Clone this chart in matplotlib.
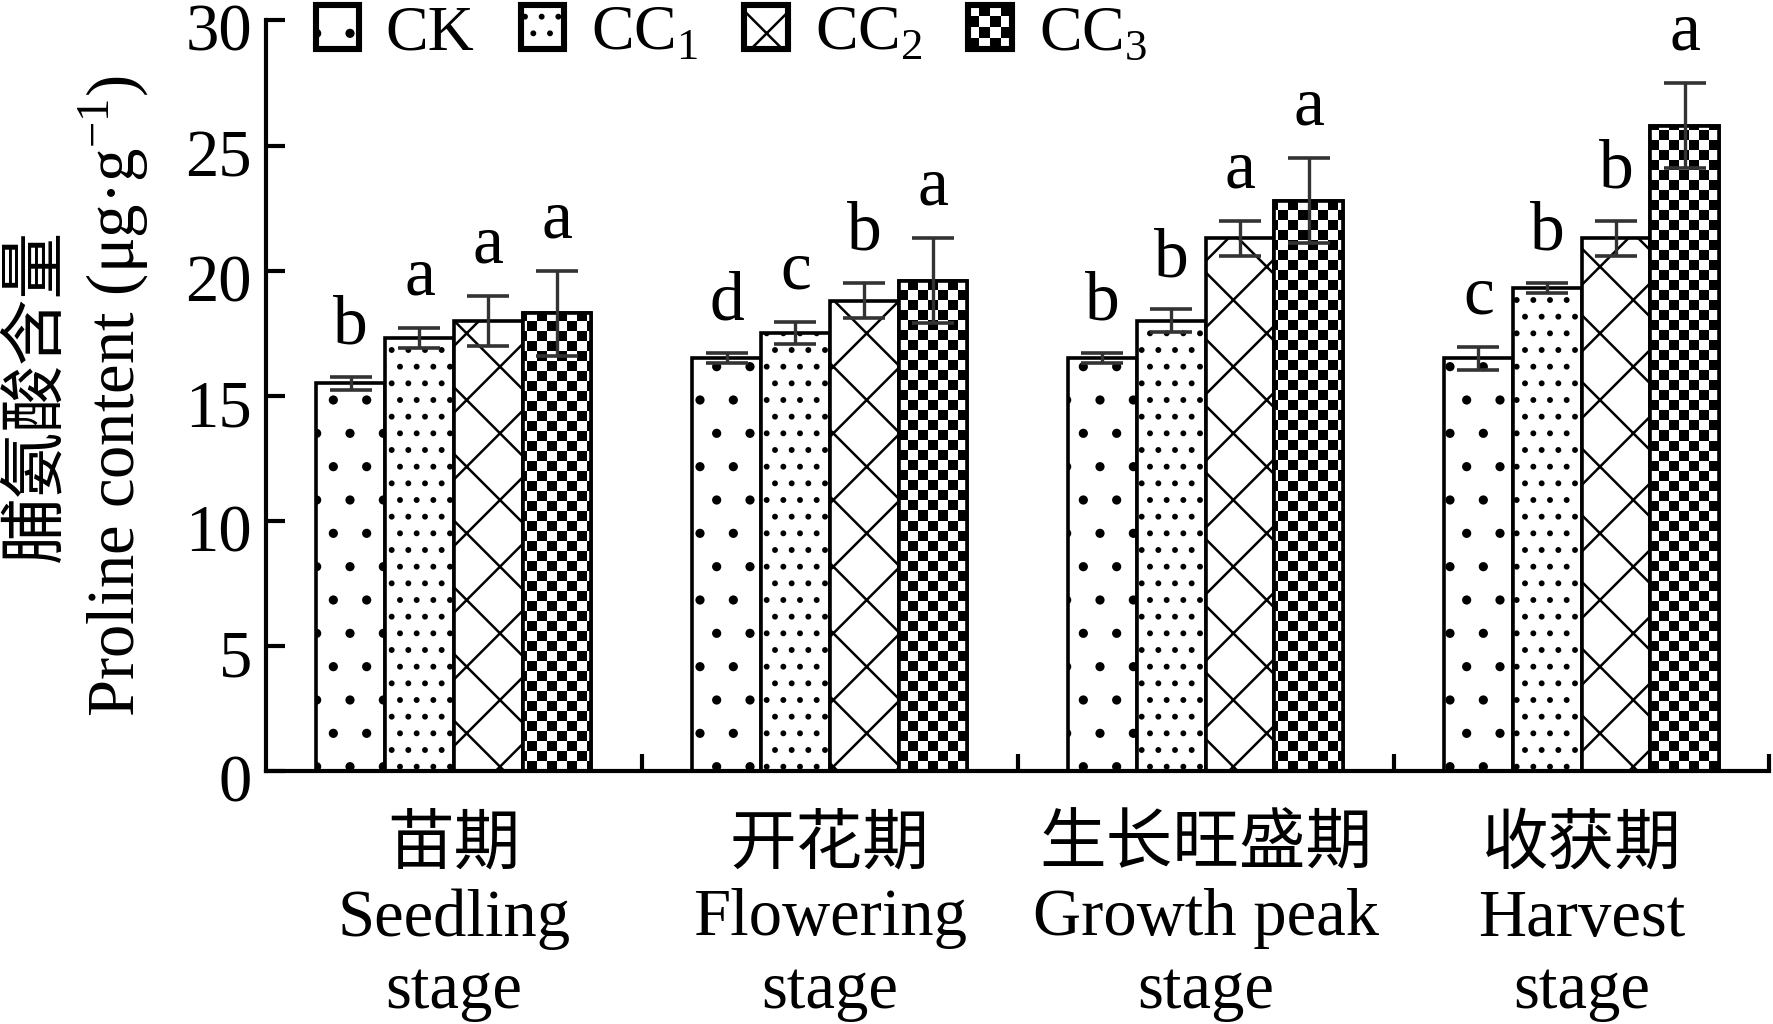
import numpy as np
import matplotlib
matplotlib.use("Agg")
import matplotlib.pyplot as plt
import matplotlib.transforms as mtransforms
from matplotlib.patches import Rectangle
from matplotlib.legend_handler import HandlerBase

plt.rcParams['font.family'] = ['Liberation Serif', 'Noto Sans CJK SC']
plt.rcParams['mathtext.fontset'] = 'custom'
plt.rcParams['mathtext.rm'] = 'Liberation Serif'
plt.rcParams['hatch.linewidth'] = 0.9

# data
stages = ['苗期\nSeedling\nstage', '开花期\nFlowering\nstage',
          '生长旺盛期\nGrowth peak\nstage', '收获期\nHarvest\nstage']
groups = ['CK', 'CC$_\\mathregular{1}$', 'CC$_\\mathregular{2}$', 'CC$_\\mathregular{3}$']
ck = [15.5, 16.5, 16.5, 16.5]
ck_err = [0.25, 0.2, 0.2, 0.45]
cc1 = [17.3, 17.5, 18.0, 19.3]
cc1_err = [0.4, 0.45, 0.45, 0.2]
cc2 = [18.0, 18.8, 21.3, 21.3]
cc2_err = [1.0, 0.7, 0.7, 0.7]
cc3 = [18.3, 19.6, 22.8, 25.8]
cc3_err = [1.7, 1.7, 1.7, 1.7]
ck_sig = ['b', 'd', 'b', 'c']
cc1_sig = ['a', 'c', 'b', 'b']
cc2_sig = ['a', 'b', 'a', 'b']
cc3_sig = ['a', 'a', 'a', 'a']

means = [ck, cc1, cc2, cc3]
errs = [ck_err, cc1_err, cc2_err, cc3_err]
sigs = [ck_sig, cc1_sig, cc2_sig, cc3_sig]
hatches = ['.', '..', 'x', None]


class CheckerHandler(HandlerBase):
    def create_artists(self, legend, orig_handle, xdescent, ydescent,
                       width, height, fontsize, trans):
        n = 4
        x0, y0 = -xdescent, -ydescent
        arts = [Rectangle((x0, y0), width, height, facecolor='white',
                          edgecolor='none', transform=trans)]
        for i in range(n):
            for j in range(n):
                if (i + j) % 2 == 0:
                    arts.append(Rectangle((x0 + i * width / n, y0 + j * height / n),
                                          width / n, height / n, facecolor='black',
                                          edgecolor='none', transform=trans))
        arts.append(Rectangle((x0, y0), width, height, facecolor='none',
                              edgecolor='black', lw=2.2, transform=trans))
        return arts


fig = plt.figure(figsize=(8.865, 5.12), dpi=200)
ax = fig.add_axes([0.150, 0.247, 0.848, 0.733])

x = np.arange(len(stages)) + 0.5
w = 0.183
containers = []
for k in range(4):
    pos = x + (k - 1.5) * w
    bars = ax.bar(pos, means[k], w, facecolor='white', edgecolor='black',
                  lw=1.3, hatch=hatches[k], zorder=2)
    containers.append(bars)
    if k == 3:
        # checkerboard fill clipped to each bar
        bb = ax.get_position()
        nx = int(round(bb.width * fig.get_figwidth() * fig.dpi / 10))
        ny = int(round(bb.height * fig.get_figheight() * fig.dpi / 10))
        ii, jj = np.indices((ny, nx))
        board = ((ii + jj) % 2).astype(float)
        for b in bars:
            im = ax.imshow(board, extent=(0, 4, 0, 30), origin='lower',
                           cmap='gray', interpolation='nearest', aspect='auto',
                           zorder=2.5)
            im.set_clip_path(b)
        ax.bar(pos, means[k], w, fill=False, edgecolor='black', lw=1.3, zorder=3)
    ax.errorbar(pos, means[k], yerr=errs[k], fmt='none', ecolor='#333333',
                elinewidth=1.2, capsize=7.5, capthick=1.3, zorder=4)
    for xi, m, e, s in zip(pos, means[k], errs[k], sigs[k]):
        ax.annotate(s, (xi, m + e), xytext=(0, 12), textcoords='offset points',
                    ha='center', va='baseline', fontsize=25)

ax.set_xlim(0, 4)
ax.set_ylim(0, 30)
ax.spines['top'].set_visible(False)
ax.spines['right'].set_visible(False)
for s in ['left', 'bottom']:
    ax.spines[s].set_linewidth(1.5)

ax.set_yticks(np.arange(0, 31, 5))
ax.tick_params(axis='y', direction='in', length=7, width=1.5, labelsize=24, pad=5)
shift = mtransforms.ScaledTranslation(0, -2.5 / 72, fig.dpi_scale_trans)
for t in ax.get_yticklabels():
    t.set_transform(t.get_transform() + shift)
ax.set_xticks(x, stages)
ax.set_xticks([1, 2, 3, 4], minor=True)
ax.tick_params(axis='x', which='major', length=0, labelsize=24, pad=16)
ax.tick_params(axis='x', which='minor', direction='in', length=6, width=1.5)
for t in ax.get_xticklabels():
    t.set_linespacing(1.24)

ax.set_ylabel('脯氨酸含量\nProline content (μg·g$^{\\mathregular{-1}}$)',
              fontsize=24, labelpad=12, linespacing=1.15)

leg = ax.legend(containers, groups, loc='upper left', ncol=4, frameon=False,
                fontsize=23, handlelength=0.68, handleheight=0.68, handletextpad=0.42,
                columnspacing=0.72, borderpad=0, borderaxespad=0,
                bbox_to_anchor=(0.178, 0.995), bbox_transform=fig.transFigure,
                handler_map={containers[3]: CheckerHandler()})
for h in leg.legend_handles[:3]:
    h.set_linewidth(2.2)

fig.savefig('out.png', dpi=200)
